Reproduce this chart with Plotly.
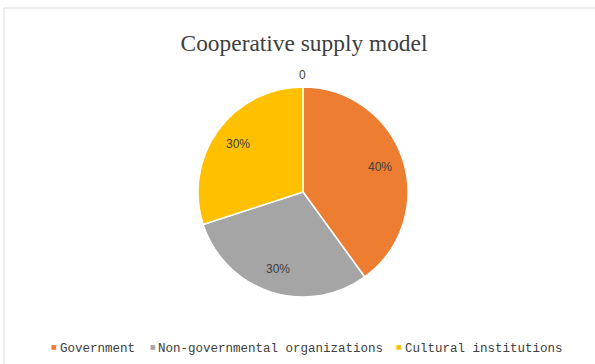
import math
import plotly.graph_objects as go

categories = ["Government", "Non-governmental organizations", "Cultural institutions"]
values = [40, 30, 30]
colors = ["#ED7D31", "#A5A5A5", "#FFC000"]
title_text = "Cooperative supply model"
zero_label = "0"

W, H = 595, 364
# pie geometry (pixels)
CX, CY, R = 303, 192, 105
LABEL_R = 0.77
legend_x = [52, 150, 397]   # left edge of each legend marker (pixels)
legend_y = 349

fig = go.Figure()
fig.add_trace(go.Pie(
    labels=categories,
    values=values,
    sort=False,
    direction="clockwise",
    rotation=0,
    marker=dict(colors=colors, line=dict(color="white", width=1.5)),
    textinfo="none",
    domain=dict(x=[(CX - R) / W, (CX + R) / W], y=[1 - (CY + R) / H, 1 - (CY - R) / H]),
    hoverinfo="label+percent",
    showlegend=False,
))

# data labels placed at slice mid-angles
total = sum(values)
cum = 0
for v in values:
    mid = 2 * math.pi * (cum + v / 2) / total
    cum += v
    px = CX + LABEL_R * R * math.sin(mid)
    py = CY - LABEL_R * R * math.cos(mid)
    fig.add_annotation(
        text=f"{round(100 * v / total)}%", x=px / W, y=1 - py / H,
        xref="paper", yref="paper", showarrow=False,
        font=dict(family="Liberation Sans", size=12, color="#404040"),
        xanchor="center", yanchor="middle",
    )

fig.add_annotation(
    text=zero_label, x=302 / W, y=1 - 75 / H, xref="paper", yref="paper",
    showarrow=False, font=dict(family="Liberation Sans", size=12, color="#404040"),
    xanchor="center", yanchor="middle",
)

# legend: small coloured marker + label
for name, col, lx in zip(categories, colors, legend_x):
    fig.add_annotation(
        text="■", x=(lx + 2.5) / W, y=1 - (legend_y - 3) / H, xref="paper", yref="paper",
        showarrow=False, xanchor="center", yanchor="middle",
        font=dict(family="DejaVu Sans", size=6, color=col),
    )
    fig.add_annotation(
        text=name, x=(lx + 6) / W, y=1 - legend_y / H, xref="paper", yref="paper",
        showarrow=False, xanchor="left", yanchor="middle",
        font=dict(family="Liberation Mono", size=12.5, color="#404040"),
    )

# chart frame
fig.add_shape(type="line", xref="paper", yref="paper",
              x0=4 / W, x1=1, y0=1 - 8 / H, y1=1 - 8 / H,
              line=dict(color="#D9D9D9", width=1))
fig.add_shape(type="line", xref="paper", yref="paper",
              x0=4 / W, x1=4 / W, y0=0, y1=1 - 8 / H,
              line=dict(color="#D9D9D9", width=1))

fig.update_layout(
    width=W, height=H,
    margin=dict(l=0, r=0, t=0, b=0),
    paper_bgcolor="white",
    plot_bgcolor="white",
    title=dict(text=title_text, x=304 / W, xanchor="center", y=1 - 43 / H, yanchor="middle",
               font=dict(family="Liberation Serif", size=23.4, color="#404040")),
    showlegend=False,
)

fig.write_html("out.html")
